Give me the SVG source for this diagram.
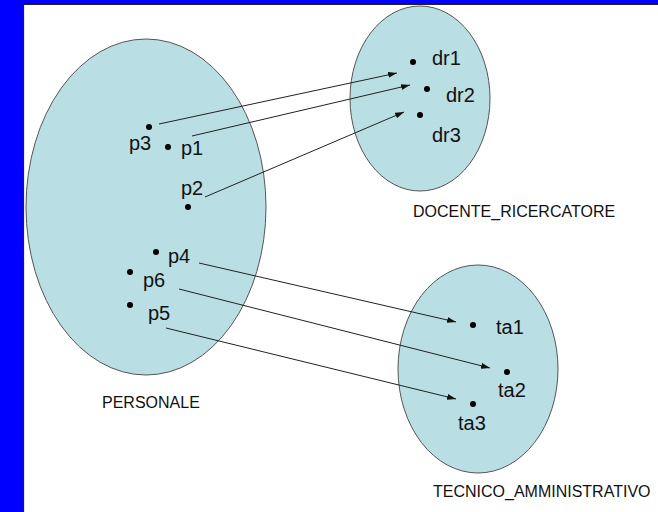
<svg xmlns="http://www.w3.org/2000/svg" width="658" height="512" viewBox="0 0 658 512">
  <style>
    .set { fill: #b9dee3; stroke: #555; stroke-width: 1; }
    .dot { fill: #000; }
    .el { font-family: "Liberation Sans", Arial, sans-serif; font-size: 20px; fill: #111; }
    .name { font-family: "Liberation Sans", Arial, sans-serif; font-size: 16px; fill: #111; }
    .link { stroke: #222; stroke-width: 1; fill: none; marker-end: url(#tip); }
  </style>
  <defs>
    <marker id="tip" markerWidth="9" markerHeight="6" refX="9" refY="3" orient="auto" markerUnits="userSpaceOnUse">
      <path d="M0,0 L9,3 L0,6 Z" fill="#111"/>
    </marker>
  </defs>

  <!-- frame -->
  <rect x="0" y="0" width="658" height="512" fill="#0000ff"/>
  <rect x="23" y="4" width="635" height="508" fill="#fff"/>
  <path d="M23.5,512 V4.5 H658" fill="none" stroke="#222" stroke-width="1.2"/>

  <g id="personale">
    <ellipse class="set" cx="146" cy="207" rx="120" ry="168"/>
    <circle class="dot" cx="149" cy="127" r="3"/>
    <circle class="dot" cx="168" cy="147" r="3"/>
    <circle class="dot" cx="188" cy="207" r="3"/>
    <circle class="dot" cx="156" cy="252" r="3"/>
    <circle class="dot" cx="130" cy="272" r="3"/>
    <circle class="dot" cx="130" cy="305" r="3"/>
    <text class="el" x="129" y="150">p3</text>
    <text class="el" x="181" y="155">p1</text>
    <text class="el" x="181" y="195">p2</text>
    <text class="el" x="168" y="263">p4</text>
    <text class="el" x="143" y="287">p6</text>
    <text class="el" x="148" y="320">p5</text>
    <text class="name" x="102" y="408">PERSONALE</text>
  </g>

  <g id="docente_ricercatore">
    <ellipse class="set" cx="420" cy="98.5" rx="70" ry="92.5"/>
    <circle class="dot" cx="413" cy="62" r="3"/>
    <circle class="dot" cx="427" cy="89" r="3"/>
    <circle class="dot" cx="420" cy="115" r="3"/>
    <text class="el" x="432" y="65">dr1</text>
    <text class="el" x="446" y="102">dr2</text>
    <text class="el" x="432" y="142">dr3</text>
    <text class="name" x="413" y="217">DOCENTE_RICERCATORE</text>
  </g>

  <g id="tecnico_amministrativo">
    <ellipse class="set" cx="478" cy="369" rx="80" ry="104"/>
    <circle class="dot" cx="473" cy="325" r="3"/>
    <circle class="dot" cx="507" cy="372" r="3"/>
    <circle class="dot" cx="473" cy="404" r="3"/>
    <text class="el" x="496" y="334">ta1</text>
    <text class="el" x="498" y="397">ta2</text>
    <text class="el" x="458" y="430">ta3</text>
    <text class="name" x="433" y="497">TECNICO_AMMINISTRATIVO</text>
  </g>

  <g id="connectors">
    <line class="link" x1="159" y1="124" x2="397" y2="73"/>
    <line class="link" x1="192" y1="136" x2="410" y2="85"/>
    <line class="link" x1="205" y1="197" x2="404" y2="112"/>
    <line class="link" x1="199" y1="263" x2="456" y2="322"/>
    <line class="link" x1="179" y1="289" x2="490" y2="368"/>
    <line class="link" x1="166" y1="328" x2="456" y2="399"/>
  </g>
</svg>
